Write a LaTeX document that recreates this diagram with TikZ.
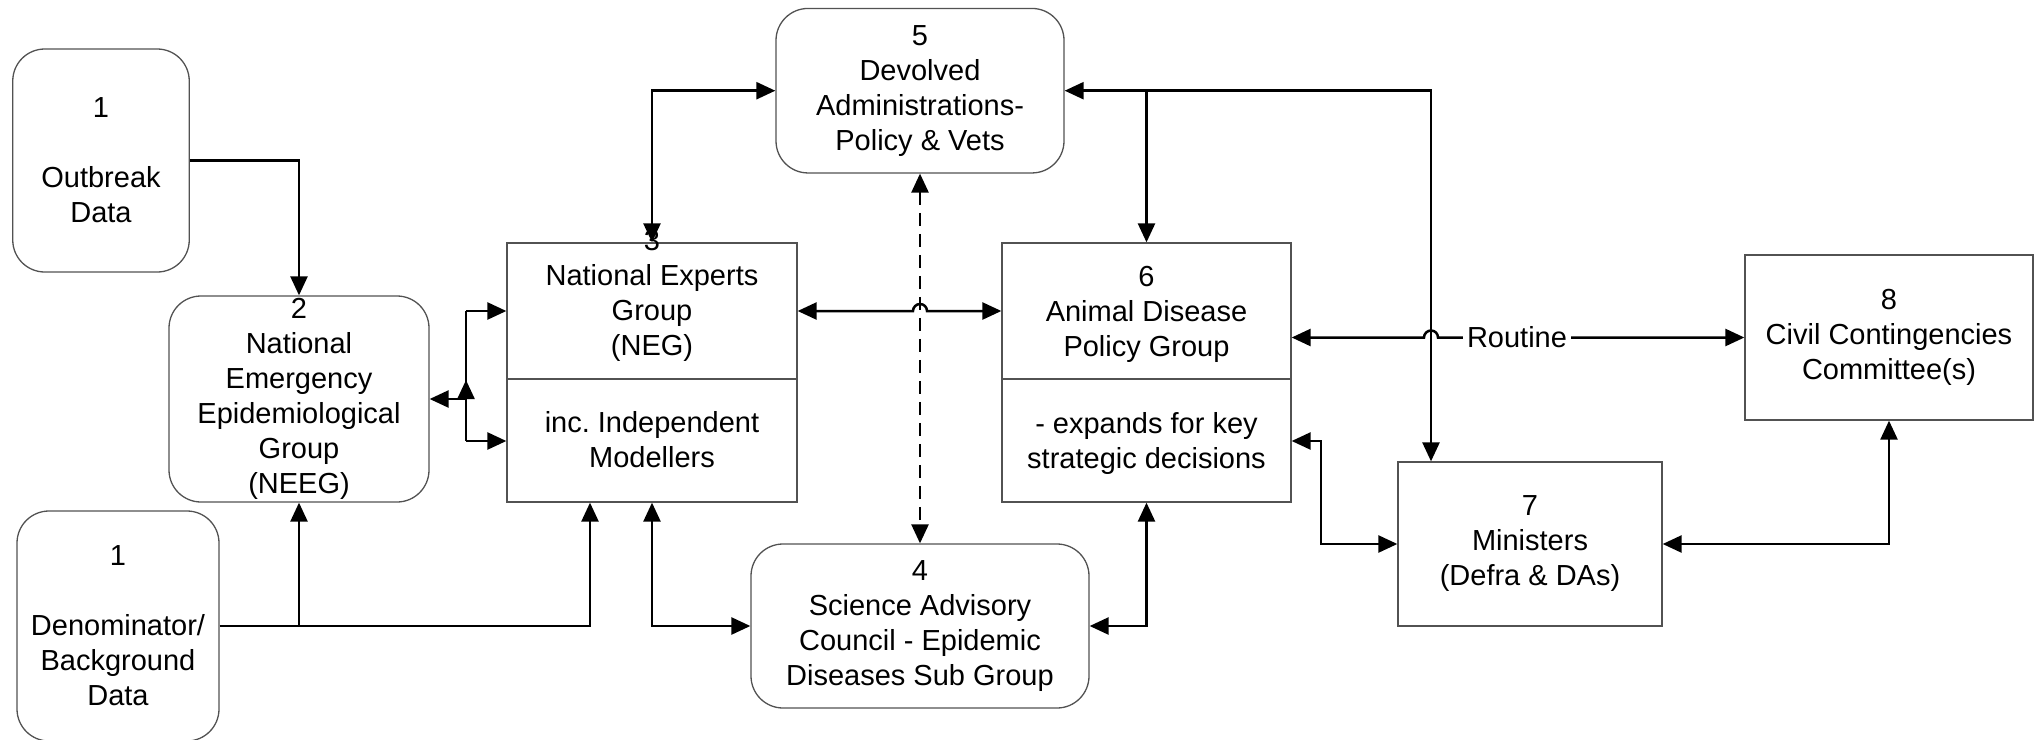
\documentclass[tikz,border=0pt]{standalone}
\usepackage{fontspec}
\setmainfont{Liberation Sans}
\usetikzlibrary{arrows.meta}
\frenchspacing
\begin{document}
\begin{tikzpicture}[x=1pt,y=-1pt,
  txt/.style={inner sep=0pt, align=center, font=\fontsize{29}{35}\selectfont},
  box/.style={txt, draw=black!68, line width=1.3pt},
  rbox/.style={box, rounded corners=32pt},
  conn/.style={line width=2.5pt},
  arr/.style={conn, -{Triangle[length=19pt,width=17pt]}},
  arrs/.style={conn, {Triangle[length=19pt,width=17pt]}-{Triangle[length=19pt,width=17pt]}},
]
\useasboundingbox (0,0) rectangle (2042,739);

% boxes
\node[rbox, minimum width=176.5pt, minimum height=223pt] (n1a) at (101,160.5) {1\\[35pt]Outbreak\\Data};
\node[rbox, minimum width=202pt, minimum height=230pt] (n1b) at (118,626) {1\\[35pt]Denominator/\\Background\\Data};
\node[rbox, minimum width=260pt, minimum height=206pt] (n2) at (299,399) {2\\National\\Emergency\\Epidemiological\\Group\\(NEEG)};
\node[box, minimum width=290pt, minimum height=259pt] (n3) at (652,372.5) {};
\node[rbox, minimum width=338pt, minimum height=164pt] (n4) at (920,626) {4\\Science Advisory\\Council - Epidemic\\Diseases Sub Group};
\node[rbox, minimum width=288pt, minimum height=164.5pt] (n5) at (920,90.7) {5\\Devolved\\Administrations-\\Policy \& Vets};
\node[box, minimum width=289pt, minimum height=259pt] (n6) at (1146.5,372.5) {};
\node[box, minimum width=264pt, minimum height=164pt] (n7) at (1530,544) {7\\Ministers\\(Defra \& DAs)};
\node[box, minimum width=288pt, minimum height=165pt] (n8) at (1889,337.5) {8\\Civil Contingencies\\Committee(s)};

\coordinate (hdiv) at (0,379);
\coordinate (h311) at (0,311);
\coordinate (h441) at (0,441);
\coordinate (j) at (466,399);
\coordinate (v590) at (590,0);
\coordinate (v1321) at (1321,0);
\coordinate (v1431) at (1431,0);

\draw[draw=black!68, line width=1.3pt] (n3.west |- hdiv) -- (n3.east |- hdiv);
\draw[draw=black!68, line width=1.3pt] (n6.west |- hdiv) -- (n6.east |- hdiv);

\node[txt] (t3a) at (652,296) {3\\National Experts\\Group\\(NEG)};
\node[txt] (t3b) at (652,440) {inc. Independent\\Modellers};
\node[txt] (t6a) at (1146.5,314) {6\\Animal Disease\\Policy Group};
\node[txt] (t6b) at (1146.5,443) {- expands for key\\strategic decisions};

% connectors
\draw[arr] (n1a.east) -| (n2.north);
\draw[arr] (n1b.east) -| (v590 |- n3.south);
\draw[arr] (n2.south |- n1b.east) -- (n2.south);
\draw[arrs] (n3.south) |- (n4.west);
\draw[arrs] (n3.north) |- (n5.west);

\draw[conn] (j |- h311) -- (j |- h441);
\draw[arr] (j |- h311) -- (n3.west |- h311);
\draw[arr] (j |- h441) -- (n3.west |- h441);
\draw[arr] (j) -- (n2.east);
\draw[arr] (j) -- ++(0,-19);

\draw[arrs] (n3.east |- h311) -- (913,311) arc[start angle=180, end angle=0, radius=7pt] -- (n6.west |- h311);
\draw[arrs, dash pattern=on 13pt off 8pt] (n5.south) -- (n4.north);

\draw[arrs] (n5.east) -| (v1431 |- n7.north);
\draw[arr] (n6.north |- n5.east) -- (n6.north);

\draw[arrs] (n6.east |- n8.west) -- (1424,337.5) arc[start angle=180, end angle=0, radius=7pt] -- (n8.west);
\node[txt, fill=white, inner xsep=4pt, inner ysep=3pt] (rt) at (1517,337.5) {Routine};

\draw[arrs] (n6.east |- h441) -- (v1321 |- h441) |- (n7.west);
\draw[arrs] (n6.south) |- (n4.east);
\draw[arrs] (n7.east) -| (n8.south);
\end{tikzpicture}
\end{document}
